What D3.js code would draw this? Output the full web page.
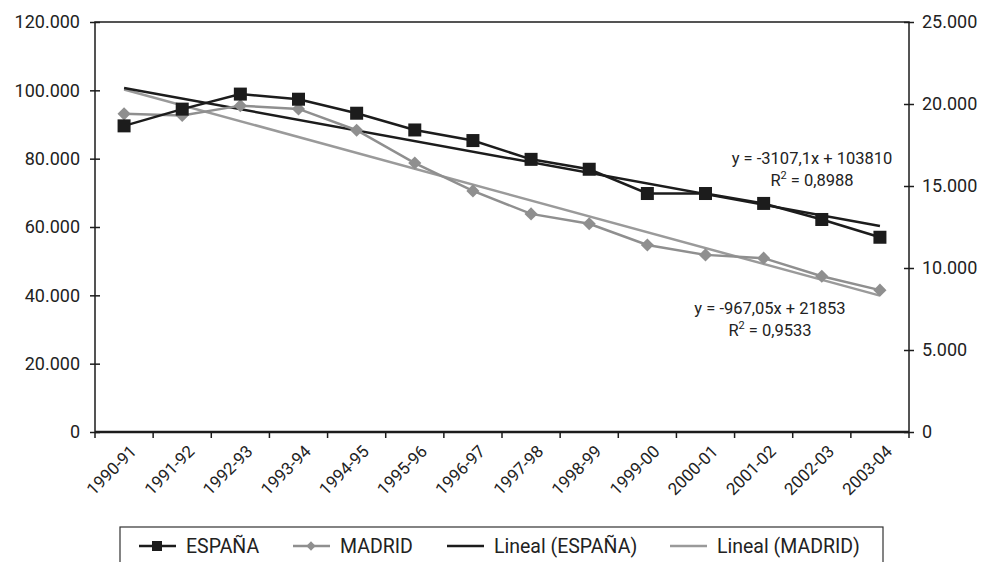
<!DOCTYPE html>
<html>
<head>
<meta charset="utf-8">
<script src="https://cdn.jsdelivr.net/npm/d3@7"></script>
<style>
  body { margin: 0; background: #fff; }
  text { font-family: Roboto, "Liberation Sans", sans-serif; fill: #222; }
</style>
</head>
<body>
<svg id="chart" width="986" height="562"></svg>
<script>
// data
const years = ['1990-91','1991-92','1992-93','1993-94','1994-95','1995-96','1996-97',
  '1997-98','1998-99','1999-00','2000-01','2001-02','2002-03','2003-04'];
const espana = [89600, 94500, 98900, 97400, 93300, 88400, 85300,
  79800, 76900, 69800, 69800, 66900, 62200, 57000];
const madrid = [19400, 19300, 19900, 19700, 18400, 16400, 14700,
  13300, 12700, 11400, 10800, 10600, 9500, 8650];
// trend lines as printed on the chart (slope, intercept)
const trendEspana = [-3107.1, 103810];
const trendMadrid = [-967.05, 21853];
const leftTicks = [0, 20000, 40000, 60000, 80000, 100000, 120000];
const rightTicks = [0, 5000, 10000, 15000, 20000, 25000];
const legendItems = ['ESPAÑA', 'MADRID', 'Lineal (ESPAÑA)', 'Lineal (MADRID)'];

const svg = d3.select('#chart');
const margin = {top: 22, left: 95, right: 77, bottom: 130};
const width = 986 - margin.left - margin.right;
const height = 562 - margin.top - margin.bottom;

const black = '#1c1c1c';
const grey = '#8f8f8f';
const numFmt = d => d3.format(',')(d).replace(/,/g, '.');

const g = svg.append('g').attr('transform', `translate(${margin.left},${margin.top})`);

const xScale = d3.scaleBand().domain(years).range([0, width]);
const xPos = d => xScale(d) + xScale.bandwidth() / 2;
const yLeft = d3.scaleLinear().domain([0, 120000]).range([height, 0]);
const yRight = d3.scaleLinear().domain([0, 25000]).range([height, 0]);

// frame
g.append('rect')
  .attr('width', width).attr('height', height)
  .attr('fill', 'none').attr('stroke', black).attr('stroke-width', 1.5);

// left axis
const yAxisL = d3.axisLeft(yLeft).tickValues(leftTicks).tickSize(5).tickPadding(6).tickFormat(numFmt);
const yAxisLG = g.append('g').call(yAxisL);
yAxisLG.selectAll('.tick line').attr('x2', 5).attr('x1', -5).attr('stroke', black).attr('stroke-width', 1.5);
yAxisLG.selectAll('.tick text').attr('x', -15);

// right axis
const yAxisR = d3.axisRight(yRight).tickValues(rightTicks).tickSize(5).tickPadding(6).tickFormat(numFmt);
const yAxisRG = g.append('g').attr('transform', `translate(${width},0)`).call(yAxisR);
yAxisRG.selectAll('.tick line').attr('x1', -5).attr('x2', 5).attr('stroke', black).attr('stroke-width', 1.5);
yAxisRG.selectAll('.tick text').attr('x', 13);

[yAxisLG, yAxisRG].forEach(a => {
  a.select('.domain').remove();
  a.selectAll('.tick text').style('font-size', '18px').style('font-family', 'Roboto, sans-serif').attr('fill', '#222');
});

// bottom axis: ticks between categories
const xAxisG = g.append('g').attr('transform', `translate(0,${height})`);
xAxisG.append('line').attr('x1', 0).attr('x2', width).attr('stroke', black).attr('stroke-width', 2.5);
xAxisG.selectAll('.xtick').data(d3.range(years.length + 1))
  .enter().append('line')
    .attr('x1', i => i * xScale.step()).attr('x2', i => i * xScale.step())
    .attr('y1', 0).attr('y2', 6)
    .attr('stroke', black).attr('stroke-width', 1.5);
xAxisG.selectAll('.xlabel').data(years)
  .enter().append('text')
    .attr('transform', d => `translate(${xPos(d) + 5},${12}) rotate(-45)`)
    .attr('text-anchor', 'end')
    .attr('dy', '0.7em')
    .style('font-size', '17px')
    .text(d => d);

// trend lines
const trendLine = (coef, yScale, color) => {
  const pts = [1, years.length].map(i => [xPos(years[i - 1]), yScale(coef[0] * i + coef[1])]);
  g.append('path')
    .attr('d', d3.line()(pts))
    .attr('fill', 'none').attr('stroke', color).attr('stroke-width', 2.5);
};
trendLine(trendMadrid, yRight, '#9a9a9a');
trendLine(trendEspana, yLeft, black);

// series lines
const lineL = d3.line().x((d, i) => xPos(years[i])).y(d => yLeft(d));
const lineR = d3.line().x((d, i) => xPos(years[i])).y(d => yRight(d));

g.append('path').datum(madrid).attr('d', lineR)
  .attr('fill', 'none').attr('stroke', grey).attr('stroke-width', 2.5);
g.selectAll('.diamond').data(madrid).enter().append('path')
  .attr('d', d3.symbol().type(d3.symbolDiamond2).size(110))
  .attr('transform', (d, i) => `translate(${xPos(years[i])},${yRight(d)})`)
  .attr('fill', grey);

g.append('path').datum(espana).attr('d', lineL)
  .attr('fill', 'none').attr('stroke', black).attr('stroke-width', 2.5);
g.selectAll('.square').data(espana).enter().append('rect')
  .attr('x', (d, i) => xPos(years[i]) - 6.5).attr('y', d => yLeft(d) - 6.5)
  .attr('width', 13).attr('height', 13)
  .attr('fill', black);

// equation labels
const eq = (lines, x, y) => {
  const t = svg.append('text').attr('text-anchor', 'middle').style('font-size', '16.5px');
  t.append('tspan').attr('x', x).attr('y', y).text(lines[0]);
  const t2 = t.append('tspan').attr('x', x).attr('y', y + 22);
  t2.append('tspan').text('R');
  t2.append('tspan').attr('dy', -7).style('font-size', '11px').text('2');
  t2.append('tspan').attr('dy', 7).text(lines[1]);
};
eq(['y = -3107,1x + 103810', ' = 0,8988'], 812, 164);
eq(['y = -967,05x + 21853', ' = 0,9533'], 770, 314);

// legend
const legend = svg.append('g');
legend.append('rect')
  .attr('x', 120).attr('y', 527).attr('width', 763).attr('height', 60)
  .attr('fill', 'none').attr('stroke', '#333').attr('stroke-width', 1.2);
const legendX = [139, 293, 447, 670];
const legendColor = [black, grey, black, '#9a9a9a'];
legendItems.forEach((name, i) => {
  const x = legendX[i];
  const gi = legend.append('g').attr('transform', `translate(${x},546)`);
  gi.append('line').attr('x1', 0).attr('x2', 37)
    .attr('stroke', legendColor[i]).attr('stroke-width', 2.5);
  if (i === 0) gi.append('rect').attr('x', 13).attr('y', -5).attr('width', 10).attr('height', 10).attr('fill', black);
  if (i === 1) gi.append('path').attr('d', d3.symbol().type(d3.symbolDiamond2).size(55)).attr('transform', 'translate(18,0)').attr('fill', grey);
  gi.append('text').attr('x', 47).attr('y', 7).style('font-size', '19.5px').text(name);
});
</script>
</body>
</html>
